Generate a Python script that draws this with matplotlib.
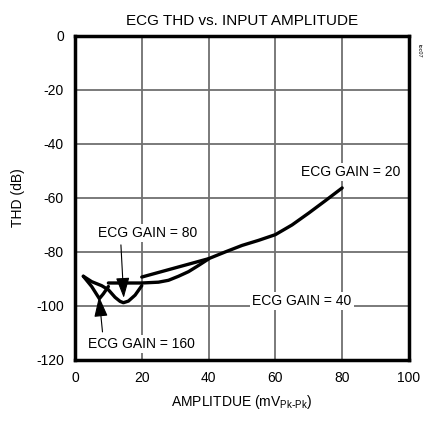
import matplotlib
matplotlib.use('Agg')
import matplotlib.pyplot as plt

plt.rcParams['font.family'] = ['Liberation Sans', 'DejaVu Sans']
plt.rcParams['axes.unicode_minus'] = False

# ECG GAIN = 20
g20_x = [20, 25, 30, 35, 40, 45, 50, 55, 60, 65, 70, 75, 80]
g20_y = [-89.3, -87.6, -85.9, -84.2, -82.5, -80.0, -77.6, -75.7, -73.6, -70.0, -65.6, -61.0, -56.3]
# ECG GAIN = 40
g40_x = [10, 15, 20, 25, 28, 31, 34, 37, 40]
g40_y = [-91.5, -91.5, -91.5, -91.2, -90.5, -89.0, -87.3, -85.0, -82.6]
# ECG GAIN = 80
g80_x = [2.5, 5, 8, 10, 12, 13.5, 14.5, 16, 18, 20]
g80_y = [-89.0, -91.0, -92.5, -94.0, -96.8, -98.3, -98.8, -98.2, -96.0, -92.5]
# ECG GAIN = 160
g160_x = [2.5, 5, 7.3, 8.5, 10]
g160_y = [-89.0, -92.8, -97.3, -95.5, -92.8]

xticks = [0, 20, 40, 60, 80, 100]
yticks = [0, -20, -40, -60, -80, -100, -120]

fig = plt.figure(figsize=(4.26, 4.22), dpi=100)
ax = fig.add_axes([0.176, 0.147, 0.784, 0.768])

for v in xticks[1:-1]:
    ax.axvline(v, color='#707070', lw=1.3, zorder=1)
for v in yticks[1:-1]:
    ax.axhline(v, color='#707070', lw=1.3, zorder=1)

kw = dict(color='black', lw=2.4, solid_capstyle='round', zorder=3)
ax.plot(g20_x, g20_y, **kw)
ax.plot(g40_x, g40_y, **kw)
ax.plot(g80_x, g80_y, **kw)
ax.plot(g160_x, g160_y, **kw)

ax.set_xlim(0, 100)
ax.set_ylim(-120, 0)
ax.set_xticks(xticks)
ax.set_yticks(yticks)
ax.tick_params(length=0, labelsize=10, pad=8)
for s in ax.spines.values():
    s.set_linewidth(2.5)
    s.set_zorder(5)

box = dict(facecolor='white', edgecolor='none', pad=1.5)
arrow = dict(arrowstyle='-|>,head_length=0.9,head_width=0.3', color='black', lw=0.8,
             mutation_scale=14, shrinkA=2, shrinkB=0)
ax.text(82.5, -50.5, 'ECG GAIN = 20', fontsize=10, ha='center', va='center', bbox=box, zorder=4)
ax.text(68, -98.2, 'ECG GAIN = 40', fontsize=10, ha='center', va='center', bbox=box, zorder=4)
ax.annotate('ECG GAIN = 80', xy=(14.6, -97.0), xytext=(21.7, -73), fontsize=10,
            ha='center', va='center', bbox=box, zorder=4,
            arrowprops=dict(arrow, relpos=(0.23, 0.0)))
ax.annotate('ECG GAIN = 160', xy=(7.2, -96.5), xytext=(19.9, -114), fontsize=10,
            ha='center', va='center', bbox=box, zorder=4,
            arrowprops=dict(arrow, relpos=(0.14, 1.0)))

ax.set_title('ECG THD vs. INPUT AMPLITUDE', fontsize=11, pad=8)
ax.set_xlabel('AMPLITDUE (mV$_{\\mathregular{Pk\\text{-}Pk}}$)', fontsize=10, labelpad=6)
ax.set_ylabel('THD (dB)', fontsize=10, labelpad=8)

fig.text(0.985, 0.88, 'toc07', fontsize=4, rotation=-90, ha='center', va='center')

fig.savefig('out.png', dpi=100)
